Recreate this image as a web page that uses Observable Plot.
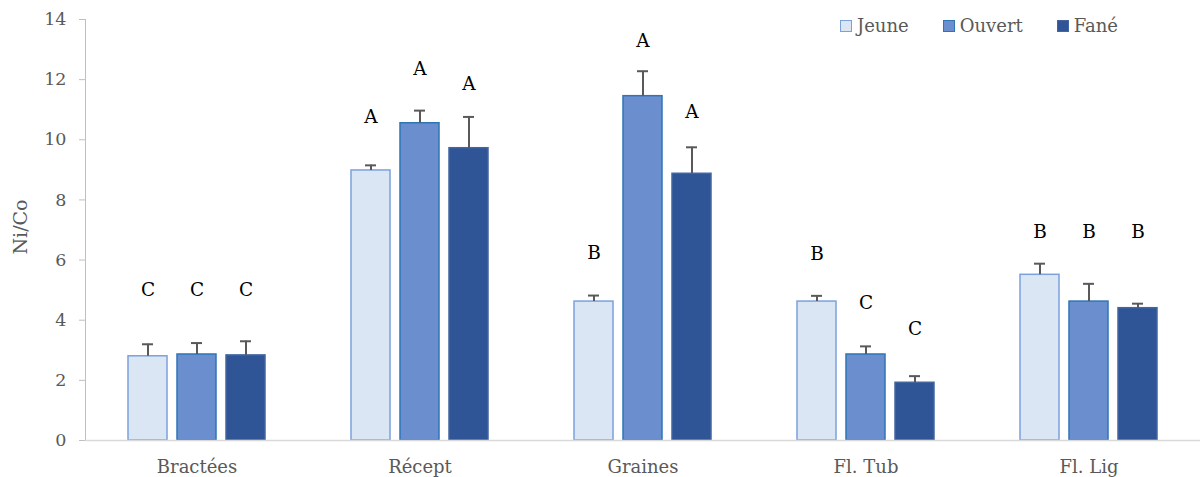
<!DOCTYPE html>
<html>
<head>
<meta charset="utf-8">
<script src="https://cdn.jsdelivr.net/npm/d3@7"></script>
<script src="https://cdn.jsdelivr.net/npm/@observablehq/plot@0.6"></script>
<style>
  html, body { margin: 0; padding: 0; background: #fff; }
  #wrap { position: relative; width: 1201px; height: 477px; font-family: "DejaVu Serif", serif; }
  #legend { position: absolute; top: 15px; left: 840px; display: flex; gap: 0; font-size: 18px; color: #595959; }
  .item { display: flex; align-items: center; margin-right: 34px; }
  .sw { width: 10px; height: 10px; border: 1.5px solid; margin-right: 5px; }
  g[aria-label="y-axis tick label"] text { font-size: 17.5px !important; }
  g[aria-label="fx-axis tick label"] text { font-size: 18px !important; }
  g[aria-label="text"] text { font-size: 18.5px !important; }
</style>
</head>
<body>
<div id="wrap"><div id="legend"></div></div>
<script>
const categories = ["Bractées", "Récept", "Graines", "Fl. Tub", "Fl. Lig"];
const series = ["Jeune", "Ouvert", "Fané"];
const jeune  = [2.80, 8.98, 4.62, 4.62, 5.51];
const ouvert = [2.86, 10.55, 11.45, 2.86, 4.62];
const fane   = [2.83, 9.72, 8.87, 1.92, 4.40];
const jeuneErr  = [0.40, 0.17, 0.20, 0.19, 0.37];
const ouvertErr = [0.38, 0.42, 0.83, 0.27, 0.59];
const faneErr   = [0.47, 1.04, 0.88, 0.22, 0.15];
const jeuneLetter  = ["C", "A", "B", "B", "B"];
const ouvertLetter = ["C", "A", "A", "C", "B"];
const faneLetter   = ["C", "A", "A", "C", "B"];
const jeuneLetterY  = [5.0, 10.74, 6.22, 6.19, 6.92];
const ouvertLetterY = [5.0, 12.34, 13.28, 4.56, 6.92];
const faneLetterY   = [5.0, 11.84, 10.92, 3.69, 6.92];
const yTicks = [0, 2, 4, 6, 8, 10, 12, 14];

const fills = ["#dbe6f4", "#6b8ecf", "#2f5597"];
const strokes = ["#7ba1dd", "#2e75b6", "#4366a2"];

const vals = [jeune, ouvert, fane], errs = [jeuneErr, ouvertErr, faneErr];
const lets = [jeuneLetter, ouvertLetter, faneLetter], letY = [jeuneLetterY, ouvertLetterY, faneLetterY];
const data = [];
categories.forEach((c, i) => series.forEach((s, j) => {
  data.push({cat: c, serie: s, value: vals[j][i], top: vals[j][i] + errs[j][i], letter: lets[j][i], ly: letY[j][i]});
}));

const chart = Plot.plot({
  width: 1201,
  height: 477,
  marginLeft: 84,
  marginRight: 1,
  marginTop: 19,
  marginBottom: 37,
  style: {fontFamily: "DejaVu Serif, serif", fontSize: "18px", background: "transparent"},
  fx: {domain: categories, paddingInner: 0, paddingOuter: 0, label: null},
  x: {domain: series, paddingInner: 0.2, paddingOuter: 0.832, axis: null},
  y: {domain: [0, 14], ticks: yTicks, label: null},
  color: {domain: series, range: fills},
  marks: [
    Plot.frame({anchor: "left", stroke: "#bfbfbf", strokeWidth: 1, facet: "super"}),
    Plot.axisFx({anchor: "bottom", tickSize: 0, tickPadding: 20, fill: "#595959", label: null}),
    Plot.axisY({ticks: yTicks, tickSize: 6, tickPadding: 13, fill: "#595959", stroke: "#bfbfbf", label: null}),
    Plot.barY(data, {fx: "cat", x: "serie", y: "value", fill: "serie", stroke: d => strokes[series.indexOf(d.serie)], strokeWidth: 1.5}),
    Plot.ruleY([0], {stroke: "#d9d9d9", strokeWidth: 1.5}),
    Plot.ruleX(data, {fx: "cat", x: "serie", y1: "value", y2: "top", stroke: "#595959", strokeWidth: 2}),
    Plot.tickY(data, {fx: "cat", x: "serie", y: "top", stroke: "#595959", strokeWidth: 2, insetLeft: 14, insetRight: 14}),
    Plot.text(data, {fx: "cat", x: "serie", y: "ly", text: "letter", fill: "#000"})
  ]
});
const wrap = document.getElementById("wrap");
wrap.insertBefore(chart, wrap.firstChild);

// y label
const svg = d3.select(chart);
svg.append("text")
  .attr("transform", "translate(27,227) rotate(-90)")
  .attr("text-anchor", "middle")
  .attr("fill", "#595959")
  .attr("font-size", 19)
  .attr("font-family", "DejaVu Serif, serif")
  .text("Ni/Co");

const legend = document.getElementById("legend");
series.forEach((s, j) => {
  const it = document.createElement("div");
  it.className = "item";
  it.innerHTML = `<div class="sw" style="background:${fills[j]};border-color:${strokes[j]}"></div><span>${s}</span>`;
  legend.appendChild(it);
});
</script>
</body>
</html>
